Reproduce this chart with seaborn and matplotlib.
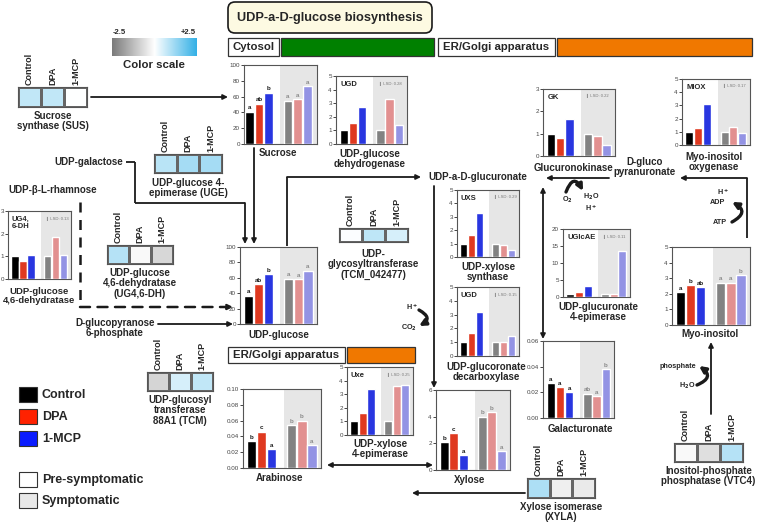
import numpy as np
import pandas as pd
import seaborn as sns
import matplotlib.pyplot as plt
from matplotlib.patches import Rectangle, FancyBboxPatch, FancyArrowPatch
from matplotlib.colors import LinearSegmentedColormap

sns.set_theme(style="ticks")
plt.rcParams['font.family'] = ['Liberation Sans', 'DejaVu Sans']
plt.rcParams['font.weight'] = 'bold'

W, H = 760, 526

# bar slots: three pre-symptomatic, an empty gap, three symptomatic
SLOTS = ["Control", "DPA", "1-MCP", "gap", "Control S", "DPA S", "1-MCP S"]
BARS = ["Control", "DPA", "1-MCP", "Control S", "DPA S", "1-MCP S"]
PAL = {"Control": "#000000", "DPA": "#ff2200", "1-MCP": "#0a1cff",
       "Control S": "#828282", "DPA S": "#f08282", "1-MCP S": "#8585f2"}
COND = ["Control", "DPA", "1-MCP"]

# metabolites (pre-symptomatic / symptomatic)
sucrose_pre, sucrose_sym = [41, 51, 65], [55, 57, 73]
sucrose_let = ["a", "ab", "b", "a", "a", "a"]
udpglc_pre, udpglc_sym = [37, 52, 65], [59, 58, 69]
udpglc_let = ["a", "ab", "b", "a", "a", "a"]
arab_pre, arab_sym = [0.034, 0.046, 0.024], [0.054, 0.060, 0.029]
arab_let = ["b", "c", "a", "b", "b", "a"]
xyl_pre, xyl_sym = [2.1, 2.75, 1.1], [4.0, 4.35, 1.4]
xyl_let = ["b", "c", "a", "b", "b", "a"]
galac_pre, galac_sym = [0.027, 0.024, 0.020], [0.019, 0.017, 0.038]
galac_let = ["a", "a", "a", "ab", "a", "b"]
myo_pre, myo_sym = [2.1, 2.55, 2.42], [2.72, 2.72, 3.18]
myo_let = ["a", "b", "ab", "a", "a", "b"]

# relative gene expression
ugd1_pre, ugd1_sym = [1, 1.55, 2.7], [1, 3.3, 1.4]
gk_pre, gk_sym = [1, 0.8, 1.65], [1, 0.9, 0.48]
miox_pre, miox_sym = [1, 1.28, 3.1], [1, 1.35, 0.93]
ug46_pre, ug46_sym = [1, 0.8, 1.08], [1, 1.85, 1.05]
uxs_pre, uxs_sym = [1, 1.65, 3.3], [1, 0.88, 0.5]
ugd2_pre, ugd2_sym = [1, 1.65, 3.2], [1, 1.0, 1.47]
uxe_pre, uxe_sym = [1, 1.6, 3.35], [1, 3.6, 3.65]
uglcae_pre, uglcae_sym = [1, 1.6, 3.3], [1, 0.8, 13.5]

# heat map fold changes (color scale -2.5 .. +2.5)
sus_heat = [0.75, 0.75, 0.0]
uge_heat = [0.85, 1.1, 1.1]
ug46_heat = [0.9, -0.1, -0.75]
tcm1_heat = [0.05, 0.8, 0.5]
tcm2_heat = [-0.8, 0.5, 0.75]
xyla_heat = [1.0, -0.3, -0.4]
vtc4_heat = [-0.1, -0.6, 0.9]

CMAP = LinearSegmentedColormap.from_list("gb", ["#7a7a7a", "#ffffff", "#33b0e6"])

fig = plt.figure(figsize=(7.6, 5.26), dpi=100)
bg = fig.add_axes([0, 0, 1, 1])
bg.set_xlim(0, W)
bg.set_ylim(H, 0)
bg.axis('off')


def px_axes(x0, y0, x1, y1):
    return fig.add_axes([x0 / W, 1 - y1 / H, (x1 - x0) / W, (y1 - y0) / H])


def label(x, y, s, size=7, **kw):
    kw.setdefault('ha', 'center')
    kw.setdefault('va', 'center')
    bg.text(x, y, s, fontsize=size, fontweight='bold', linespacing=1.05, **kw)


def arrow(pts, style='-|>', dashed=False, lw=1.3):
    ls = (0, (4, 3)) if dashed else '-'
    for a, b in zip(pts[:-2], pts[1:-1]):
        bg.plot([a[0], b[0]], [a[1], b[1]], color='k', lw=lw, ls=ls,
                solid_capstyle='butt')
    bg.add_patch(FancyArrowPatch(pts[-2], pts[-1], arrowstyle=style,
                                 mutation_scale=7, lw=lw, color='k',
                                 linestyle=ls, shrinkA=0, shrinkB=0))


def curl(a, b, rad):
    bg.add_patch(FancyArrowPatch(a, b, arrowstyle='-|>', mutation_scale=9,
                                 lw=2.4, color='k', shrinkA=0, shrinkB=0,
                                 connectionstyle=f"arc3,rad={rad}"))


def bars(box, pre, sym, ylim, yticks, letters=None, name=None, lsd=None,
         fmt="{:g}", xlim=(-0.85, 6.9)):
    ax = px_axes(*box)
    df = pd.DataFrame({"slot": BARS, "value": list(pre) + list(sym)})
    ax.axvspan(3.2, xlim[1], color='#e6e6e6', zorder=0, lw=0)
    sns.barplot(data=df, x="slot", y="value", order=SLOTS, hue="slot",
                hue_order=BARS, palette=PAL, width=0.92, legend=False,
                errorbar=None, ax=ax, zorder=3)
    ax.set_xlim(*xlim)
    ax.set_ylim(*ylim)
    ax.set_yticks(yticks)
    ax.set_yticklabels([fmt.format(t) for t in yticks])
    ax.set_xticks([])
    ax.set_xlabel('')
    ax.set_ylabel('')
    ax.tick_params(axis='y', labelsize=4.5, length=2, width=0.6, pad=1,
                   labelcolor='#444', left=True)
    for t in ax.get_yticklabels():
        t.set_fontweight('normal')
    for sp in ax.spines.values():
        sp.set_visible(True)
        sp.set_color('#555')
        sp.set_linewidth(0.8)
    if letters:
        for i, (slot, v) in enumerate(zip(BARS, df["value"])):
            ax.annotate(letters[i], (SLOTS.index(slot), v), xytext=(0, 1),
                        textcoords='offset points', ha='center', va='bottom',
                        fontsize=4.5, fontweight='bold',
                        color='k' if i < 3 else '#8a8a8a')
    if name:
        ax.text(0.06, 0.93, name, transform=ax.transAxes, fontsize=5.5,
                fontweight='bold', ha='left', va='top', linespacing=1.0)
    if lsd:
        ax.text(0.6, 0.92, "\u258e LSD: " + lsd, transform=ax.transAxes,
                fontsize=3, color='#777', ha='left', va='top',
                fontweight='normal')
    return ax


def heat(box, vals, caption, cap_y):
    x0, y0, x1, y1 = box
    ax = px_axes(*box)
    sns.heatmap(np.array([vals]), ax=ax, cmap=CMAP, vmin=-2.5, vmax=2.5,
                cbar=False, linewidths=0.8, linecolor='#666',
                xticklabels=False, yticklabels=False)
    for sp in ax.spines.values():
        sp.set_visible(True)
        sp.set_color('#555')
        sp.set_linewidth(0.8)
    for i, c in enumerate(COND):
        cx = x0 + (i + 0.5) * (x1 - x0) / 3
        label(cx, y0 - 2, c, size=6.5, rotation=90, va='bottom')
    label((x0 + x1) / 2, cap_y, caption, va='top')


# ---- header boxes ----
bg.add_patch(FancyBboxPatch((228, 2), 204, 31, boxstyle="round,pad=0,rounding_size=7",
                            fc='#fdfae2', ec='k', lw=1.2))
label(330, 18, "UDP-a-D-glucose biosynthesis", size=9.2)
for (x0, x1, fc, txt, y0, y1) in [(228, 279, 'white', "Cytosol", 38, 56),
                                  (281, 434, '#008000', None, 38, 56),
                                  (438, 555, 'white', "ER/Golgi apparatus", 38, 56),
                                  (557, 752, '#f07800', None, 38, 56),
                                  (228, 345, 'white', "ER/Golgi apparatus", 347, 363),
                                  (347, 415, '#f07800', None, 347, 363)]:
    bg.add_patch(Rectangle((x0, y0), x1 - x0, y1 - y0, fc=fc, ec='#333', lw=0.9))
    if txt:
        label((x0 + x1) / 2, (y0 + y1) / 2 + 0.5, txt, size=8.2)

# color scale
cs = px_axes(112, 38, 197, 56)
cs.imshow(np.linspace(-2.5, 2.5, 256)[None, :], aspect='auto', cmap=CMAP)
cs.axis('off')
label(119, 32, "-2.5", size=5.5)
label(188, 32, "+2.5", size=5.5)
label(154, 65, "Color scale", size=8.2)

# ---- pathway lines ----
arrow([(91, 97), (228, 97)])
label(123, 162, "UDP-galactose", ha='right')
arrow([(126, 162), (135, 162), (135, 203), (245, 203), (245, 244)])
arrow([(254, 148), (254, 244)])
arrow([(287, 246), (287, 177), (421, 177)])
label(478, 177, "UDP-a-D-glucuronate")
arrow([(434, 186), (434, 388)])
arrow([(609, 178), (546, 178)])
arrow([(543, 187), (543, 339)], style='<|-|>')
label(645, 167, "D-gluco\npyranuronate")
arrow([(747, 238), (747, 178), (680, 178)])
arrow([(711, 414), (711, 342)])
arrow([(327, 465), (433, 465)], style='<|-|>')
arrow([(525, 493), (412, 493)])
label(53, 190, "UDP-\u03b2-L-rhamnose")
arrow([(80, 202), (80, 307), (233, 307)], dashed=True, lw=1.8)
label(115, 328, "D-glucopyranose\n6-phosphate")
arrow([(158, 324), (233, 324)])

# cofactor curls
curl((566, 192), (583, 191), -1.1)
label(567, 200, "O$_2$", size=5.2)
label(591, 197, "H$_2$O", size=5.2)
label(591, 208, "H$^+$", size=5.2)
curl((419, 310), (419, 326), -0.9)
label(412, 307, "H$^+$", size=5.2)
label(409, 328, "CO$_2$", size=5.2)
curl((732, 222), (732, 202), 0.9)
label(723, 192, "H$^+$", size=5.2)
label(718, 203, "ADP", size=5.2)
label(720, 222, "ATP", size=5.2)
curl((697, 385), (699, 366), 0.9)
label(678, 366, "phosphate", size=5.2)
label(687, 386, "H$_2$O", size=5.2)

# ---- heat maps ----
heat((18, 87, 87, 107), sus_heat, "Sucrose\nsynthase (SUS)", 111)
heat((154, 154, 222, 173), uge_heat, "UDP-glucose 4-\nepimerase (UGE)", 178)
heat((107, 245, 173, 264), ug46_heat, "UDP-glucose\n4,6-dehydratase\n(UG4,6-DH)", 268)
heat((339, 228, 408, 242), tcm1_heat, "UDP-\nglycosyltransferase\n(TCM_042477)", 249)
heat((147, 372, 213, 391), tcm2_heat, "UDP-glucosyl\ntransferase\n88A1 (TCM)", 395)
heat((527, 478, 595, 498), xyla_heat, "Xylose isomerase\n(XYLA)", 502)
heat((674, 443, 743, 462), vtc4_heat, "Inositol-phosphate\nphosphatase (VTC4)", 466)

# ---- bar charts ----
bars((244, 65, 317, 144), sucrose_pre, sucrose_sym, (0, 100), [0, 20, 40, 60, 80, 100],
     letters=sucrose_let, xlim=(-0.55, 7.0))
label(278, 153, "Sucrose")
bars((336, 76, 407, 144), ugd1_pre, ugd1_sym, (0, 5), [0, 1, 2, 3, 4, 5], name="UGD", lsd="0.28")
label(370, 159, "UDP-glucose\ndehydrogenase")
bars((543, 89, 615, 156), gk_pre, gk_sym, (0, 3), [0, 1, 2, 3], name="GK", lsd="0.22")
label(574, 168, "Glucuronokinase")
bars((682, 79, 750, 145), miox_pre, miox_sym, (0, 5), [0, 1, 2, 3, 4, 5], name="MIOX", lsd="0.17")
label(714, 162, "Myo-inositol\noxygenase")
bars((8, 211, 71, 279), ug46_pre, ug46_sym, (0, 3), [0, 1, 2, 3], name="UG4,\n6-DH", lsd="0.13")
label(39, 296, "UDP-glucose\n4,6-dehydratase", size=6.8)
bars((240, 247, 317, 324), udpglc_pre, udpglc_sym, (0, 100), [0, 20, 40, 60, 80, 100],
     letters=udpglc_let)
label(279, 335, "UDP-glucose")
bars((457, 190, 519, 257), uxs_pre, uxs_sym, (0, 5), [0, 1, 2, 3, 4, 5], name="UXS", lsd="0.29")
label(488, 272, "UDP-xylose\nsynthase")
bars((457, 287, 519, 356), ugd2_pre, ugd2_sym, (0, 5), [0, 1, 2, 3, 4, 5], name="UGD", lsd="0.15")
label(486, 372, "UDP-glucoronate\ndecarboxylase")
bars((436, 390, 510, 470), xyl_pre, xyl_sym, (0, 6), [0, 2, 4, 6], letters=xyl_let)
label(470, 480, "Xylose")
bars((347, 367, 413, 435), uxe_pre, uxe_sym, (0, 5), [0, 1, 2, 3, 4, 5], name="Uxe", lsd="0.25")
label(380, 449, "UDP-xylose\n4-epimerase")
bars((243, 389, 321, 468), arab_pre, arab_sym, (0, 0.1), [0, 0.02, 0.04, 0.06, 0.08, 0.1],
     letters=arab_let, fmt="{:.2f}")
label(280, 478, "Arabinose")
bars((563, 229, 630, 297), uglcae_pre, uglcae_sym, (0, 20), [0, 5, 10, 15, 20],
     name="UGlcAE", lsd="0.11")
label(598, 312, "UDP-glucuronate\n4-epimerase")
bars((672, 247, 750, 325), myo_pre, myo_sym, (0, 5), [0, 1, 2, 3, 4, 5], letters=myo_let)
label(710, 334, "Myo-inositol")
bars((543, 341, 614, 418), galac_pre, galac_sym, (0, 0.06), [0, 0.02, 0.04, 0.06],
     letters=galac_let, fmt="{:.2f}")
label(580, 429, "Galacturonate")

# ---- legend ----
for (y0, fc, txt) in [(387, PAL["Control"], "Control"), (409, PAL["DPA"], "DPA"),
                      (431, PAL["1-MCP"], "1-MCP"), (472, 'white', "Pre-symptomatic"),
                      (493, '#e8e8e8', "Symptomatic")]:
    bg.add_patch(Rectangle((19, y0), 18, 15, fc=fc, ec='#333', lw=0.8))
    label(42, y0 + 8, txt, size=9, ha='left')

fig.savefig("out.png", dpi=100)
